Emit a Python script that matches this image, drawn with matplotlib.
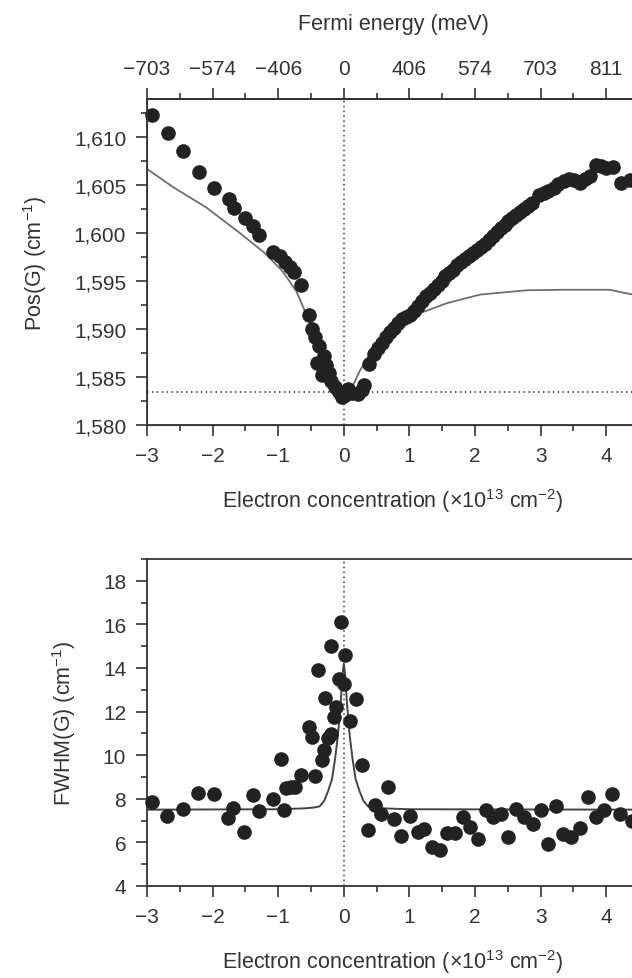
import matplotlib
matplotlib.use('Agg')
import matplotlib.pyplot as plt
from matplotlib.ticker import MultipleLocator, FixedLocator

# ---- data ----
# top panel: Pos(G) vs electron concentration
pos_n = [-2.92, -2.68, -2.45, -2.21, -1.98, -1.75, -1.68, -1.51, -1.38, -1.29,
         -1.08, -0.97, -0.90, -0.82, -0.76, -0.65, -0.53, -0.48, -0.44, -0.38,
         -0.41, -0.30, -0.27, -0.33, -0.23, -0.19, -0.13, -0.08, -0.03, 0.02,
         0.07, 0.13, 0.21, 0.27, 0.31,
         0.39, 0.46, 0.52, 0.58, 0.64, 0.70, 0.76, 0.82, 0.88, 0.95,
         1.01, 1.07, 1.13, 1.19, 1.25, 1.31, 1.37, 1.43, 1.49, 1.55,
         1.61, 1.67, 1.73, 1.79, 1.85, 1.91, 1.97, 2.03, 2.09, 2.15,
         2.21, 2.27, 2.33, 2.39, 2.45, 2.51, 2.57, 2.63, 2.69, 2.75,
         2.81, 2.87, 2.98, 3.05, 3.12, 3.20, 3.27, 3.35, 3.43, 3.51,
         3.60, 3.68, 3.76, 3.84, 3.92, 4.00, 4.10, 4.22, 4.37]
pos_g = [1612.3, 1610.5, 1608.6, 1606.4, 1604.7, 1603.6, 1602.6, 1601.6, 1600.7, 1599.8,
         1598.0, 1597.6, 1597.0, 1596.5, 1596.0, 1594.6, 1591.5, 1590.0, 1589.2, 1588.2,
         1586.5, 1587.2, 1586.3, 1585.2, 1585.4, 1584.6, 1584.0, 1583.4, 1582.9, 1583.1,
         1583.8, 1583.3, 1583.2, 1583.6, 1584.2,
         1586.4, 1587.4, 1588.0, 1588.6, 1589.2, 1589.7, 1590.1, 1590.6, 1591.0, 1591.3,
         1591.5, 1591.9, 1592.4, 1592.9, 1593.4, 1593.8, 1594.2, 1594.6, 1595.0, 1595.5,
         1595.9, 1596.2, 1596.7, 1597.0, 1597.3, 1597.6, 1597.9, 1598.2, 1598.6, 1598.9,
         1599.3, 1599.7, 1600.1, 1600.5, 1600.9, 1601.3, 1601.6, 1601.9, 1602.2, 1602.5,
         1602.8, 1603.2, 1604.0, 1604.2, 1604.4, 1604.7, 1605.1, 1605.4, 1605.6, 1605.5,
         1605.2, 1605.6, 1606.0, 1607.1, 1607.0, 1606.8, 1606.9, 1605.2, 1605.5]

# theory curve, top panel
pos_fit_n = [-3.0, -2.6, -2.1, -1.6, -1.2, -0.93, -0.72, -0.57, -0.42, -0.27,
             -0.12, -0.05, 0.0, 0.05, 0.12, 0.24, 0.45, 0.8, 1.1, 1.57,
             2.08, 2.8, 3.35, 4.05, 4.4, 4.5]
pos_fit_g = [1606.7, 1604.8, 1602.7, 1600.1, 1597.9, 1596.0, 1593.9, 1591.5, 1589.4, 1586.6,
             1584.2, 1583.5, 1583.3, 1583.4, 1583.8, 1585.6, 1588.0, 1590.4, 1591.5, 1592.7,
             1593.6, 1594.05, 1594.1, 1594.1, 1593.6, 1593.4]
pos_ref = 1583.4

# bottom panel: FWHM(G)
fw_n = [-2.93, -2.69, -2.45, -2.22, -1.98, -1.76, -1.69, -1.52, -1.39, -1.29,
        -1.08, -0.95, -0.91, -0.88, -0.81, -0.75, -0.65, -0.53, -0.48, -0.44,
        -0.39, -0.34, -0.30, -0.28, -0.24, -0.20, -0.19, -0.15, -0.12, -0.07,
        -0.04, 0.01, 0.02, 0.09, 0.19, 0.28, 0.37, 0.47, 0.57, 0.68,
        0.77, 0.87, 1.01, 1.13, 1.23, 1.34, 1.46, 1.57, 1.69, 1.81,
        1.92, 2.04, 2.16, 2.27, 2.39, 2.50, 2.63, 2.74, 2.88, 3.00,
        3.11, 3.23, 3.34, 3.47, 3.60, 3.72, 3.84, 3.96, 4.09, 4.21, 4.39]
fw_g = [7.86, 7.22, 7.53, 8.27, 8.24, 7.10, 7.56, 6.49, 8.17, 7.44,
        7.98, 9.84, 7.48, 8.50, 8.55, 8.55, 9.08, 11.29, 10.84, 9.05,
        13.91, 9.80, 10.23, 12.63, 10.80, 15.03, 10.99, 11.75, 12.21, 13.50,
        16.09, 13.27, 14.60, 11.57, 12.59, 9.54, 6.57, 7.71, 7.28, 8.56,
        7.07, 6.30, 7.23, 6.47, 6.62, 5.78, 5.67, 6.43, 6.43, 7.15,
        6.69, 6.16, 7.50, 7.15, 7.30, 6.24, 7.53, 7.15, 6.84, 7.50,
        5.93, 7.68, 6.40, 6.24, 6.65, 8.07, 7.15, 7.50, 8.22, 7.30, 7.00]

fw_fit_n = [-3.0, -1.0, -0.6, -0.45, -0.37, -0.3, -0.24, -0.18, -0.13, -0.09,
            -0.05, -0.02, 0.0, 0.02, 0.05, 0.09, 0.13, 0.18, 0.24, 0.3,
            0.37, 0.45, 0.6, 1.0, 4.5]
fw_fit_g = [7.5, 7.52, 7.56, 7.6, 7.65, 7.9, 8.35, 8.9, 9.9, 10.9,
            12.3, 13.7, 14.2, 13.7, 12.3, 10.9, 9.9, 8.9, 8.35, 7.9,
            7.65, 7.6, 7.56, 7.52, 7.5]

n_ticks = [-3, -2, -1, 0, 1, 2, 3, 4]
n_labels = ['\u22123', '\u22122', '\u22121', '0', '1', '2', '3', '4']
ef_labels = ['\u2212703', '\u2212574', '\u2212406', '0', '406', '574', '703', '811']
pos_ticks = [1580, 1585, 1590, 1595, 1600, 1605, 1610]
pos_labels = ['1,580', '1,585', '1,590', '1,595', '1,600', '1,605', '1,610']
fw_ticks = [4, 6, 8, 10, 12, 14, 16, 18]

# ---- style ----
plt.rcParams['font.family'] = ['Liberation Sans', 'DejaVu Sans']
plt.rcParams['mathtext.default'] = 'regular'
txt = '#333333'
ink = '#222222'
plt.rcParams['text.color'] = txt
plt.rcParams['axes.labelcolor'] = txt
plt.rcParams['xtick.color'] = txt
plt.rcParams['ytick.color'] = txt
plt.rcParams['axes.edgecolor'] = '#333333'

tick_fs = 15
lab_fs = 15.5

fig = plt.figure(figsize=(6.32, 9.79), dpi=100)
ax1 = fig.add_axes([0.2326, 0.5649, 0.7785, 0.3330])
ax2 = fig.add_axes([0.2326, 0.0940, 0.7785, 0.3340])


def style_axis(ax):
    for s in ['left', 'bottom', 'top']:
        ax.spines[s].set_linewidth(1.3)
    ax.spines['right'].set_visible(False)
    ax.set_xlim(-3, 4.5)
    ax.xaxis.set_major_locator(FixedLocator(n_ticks))
    ax.set_xticklabels(n_labels)
    ax.xaxis.set_minor_locator(MultipleLocator(0.5))
    ax.tick_params(which='major', direction='out', length=8, width=1.2,
                   labelsize=tick_fs, pad=7)
    ax.tick_params(which='minor', direction='out', length=4, width=1.2)
    ax.tick_params(top=False, right=False, which='both')


# top panel
style_axis(ax1)
ax1.set_ylim(1580, 1614)
ax1.yaxis.set_major_locator(FixedLocator(pos_ticks))
ax1.set_yticklabels(pos_labels)
ax1.yaxis.set_minor_locator(MultipleLocator(2.5))
ax1.plot(pos_fit_n, pos_fit_g, color='#6e6e6e', lw=1.3, zorder=2)
ax1.plot(pos_n, pos_g, 'o', color=ink, ms=9.5, mec=ink, zorder=3, clip_on=False)
ax1.axhline(pos_ref, color='#333333', lw=1.1, ls=(0, (1, 2.2)), zorder=1)
ax1.axvline(0, color='#333333', lw=1.1, ls=(0, (1, 2.2)), zorder=1)
ax1.set_xlabel('Electron concentration (\u00d710$^{13}$ cm$^{\u22122}$)',
               fontsize=lab_fs, labelpad=15)

top = ax1.twiny()
top.spines['right'].set_visible(False)
top.spines['top'].set_linewidth(1.3)
top.set_xlim(ax1.get_xlim())
top.xaxis.set_major_locator(FixedLocator(n_ticks))
top.set_xticklabels(ef_labels)
top.xaxis.set_minor_locator(MultipleLocator(0.5))
top.tick_params(which='major', direction='out', length=8, width=1.2,
                labelsize=tick_fs, pad=7)
top.tick_params(which='minor', direction='out', length=4, width=1.2)
top.set_xlabel('Fermi energy (meV)', fontsize=lab_fs, labelpad=22)

# bottom panel
style_axis(ax2)
ax2.set_ylim(4, 19)
ax2.yaxis.set_major_locator(FixedLocator(fw_ticks))
ax2.yaxis.set_minor_locator(MultipleLocator(1))
ax2.plot(fw_fit_n, fw_fit_g, color='#444444', lw=1.4, zorder=2)
ax2.plot(fw_n, fw_g, 'o', color=ink, ms=9.5, mec=ink, zorder=3, clip_on=False)
ax2.axvline(0, color='#333333', lw=1.1, ls=(0, (1, 2.2)), zorder=1)
ax2.set_xlabel('Electron concentration (\u00d710$^{13}$ cm$^{\u22122}$)',
               fontsize=lab_fs, labelpad=15)

fig.text(35 / 632, 1 - 263 / 979, 'Pos(G) (cm$^{\u22121}$)', rotation=90,
         ha='center', va='center', fontsize=lab_fs, color=txt)
fig.text(64 / 632, 1 - 723 / 979, 'FWHM(G) (cm$^{\u22121}$)', rotation=90,
         ha='center', va='center', fontsize=lab_fs, color=txt)

fig.savefig('out.png', dpi=100)
